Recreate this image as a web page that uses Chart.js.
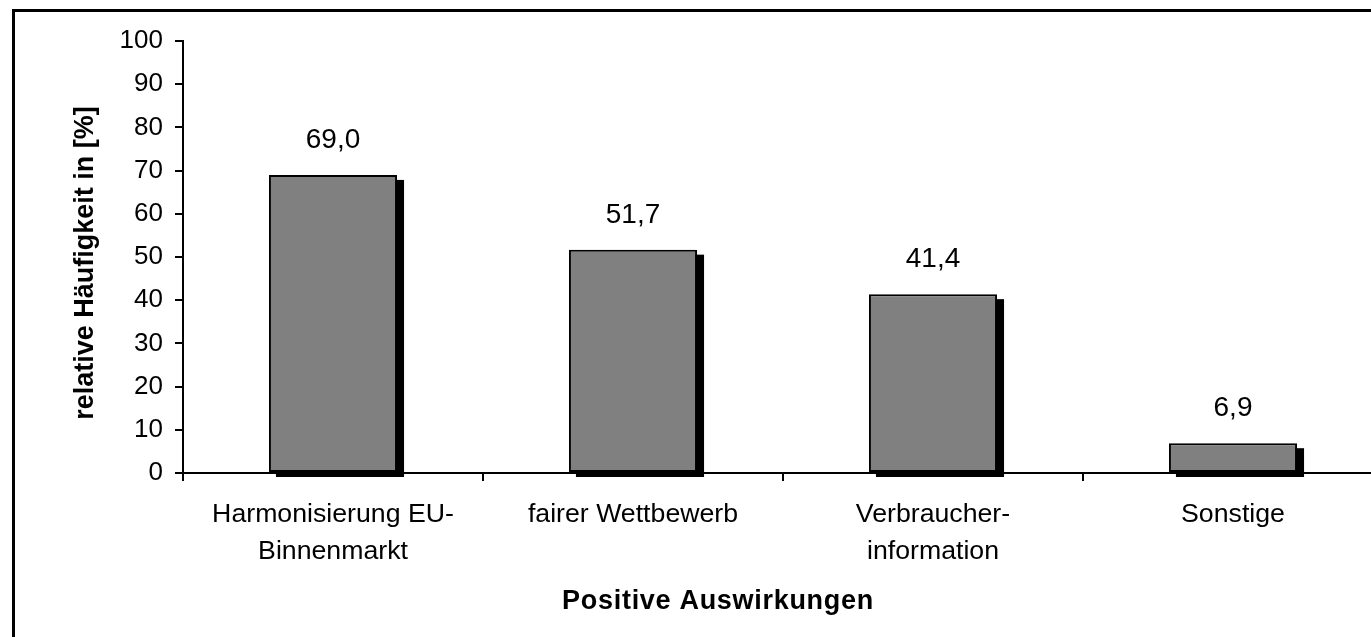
<!DOCTYPE html>
<html>
<head>
<meta charset="utf-8">
<script src="https://cdn.jsdelivr.net/npm/chart.js@4"></script>
<style>
    html, body { margin: 0; padding: 0; background: #fff; overflow: hidden; }
    #frame {
        position: absolute; left: 12px; top: 9px; width: 2000px; height: 2000px;
        border-left: 3px solid #000; border-top: 3px solid #000;
    }
    #wrap { position: absolute; left: 0; top: 0; width: 1400px; height: 637px; }
</style>
</head>
<body>
<div id="frame"></div>
<div id="wrap"><canvas id="chart" width="1400" height="637"></canvas></div>
<script>
const categories = [
    ['Harmonisierung EU-', 'Binnenmarkt'],
    ['fairer Wettbewerb'],
    ['Verbraucher-', 'information'],
    ['Sonstige']
];
const values = [69.0, 51.7, 41.4, 6.9];
const valueLabels = ['69,0', '51,7', '41,4', '6,9'];
const yTitle = 'relative Häufigkeit in [%]';
const xTitle = 'Positive Auswirkungen';

const FONT = '"Liberation Sans", Arial, sans-serif';

// black drop shadow behind each bar (old Excel 3D look)
const shadowPlugin = {
    id: 'barShadow',
    beforeDatasetsDraw(chart) {
        const { ctx } = chart;
        const meta = chart.getDatasetMeta(0);
        ctx.save();
        ctx.fillStyle = '#000';
        meta.data.forEach(bar => {
            const w = bar.width;
            ctx.fillRect(bar.x - w / 2 + 7, bar.y + 5, w, bar.base - bar.y);
        });
        ctx.restore();
    }
};

const labelPlugin = {
    id: 'valueLabels',
    afterDatasetsDraw(chart) {
        const { ctx } = chart;
        const meta = chart.getDatasetMeta(0);
        ctx.save();
        ctx.fillStyle = '#000';
        ctx.font = `28px ${FONT}`;
        ctx.textAlign = 'center';
        ctx.textBaseline = 'alphabetic';
        meta.data.forEach((bar, i) => {
            ctx.fillText(valueLabels[i], bar.x, bar.y - 27);
        });
        ctx.restore();
    }
};

const titlePlugin = {
    id: 'axisTitles',
    afterDraw(chart) {
        const { ctx } = chart;
        ctx.save();
        ctx.fillStyle = '#000';
        ctx.textAlign = 'center';
        ctx.textBaseline = 'alphabetic';
        ctx.font = `bold 27px ${FONT}`;
        ctx.letterSpacing = '0.7px';
        ctx.fillText(xTitle, 718, 609);
        ctx.letterSpacing = '0px';
        ctx.textBaseline = 'middle';
        ctx.translate(86, 263);
        ctx.rotate(-Math.PI / 2);
        ctx.font = `bold 27px ${FONT}`;
        ctx.fillText(yTitle, 0, 0);
        ctx.restore();
    }
};

new Chart(document.getElementById('chart'), {
    type: 'bar',
    data: {
        labels: categories,
        datasets: [{
            data: values,
            backgroundColor: '#808080',
            borderColor: '#000',
            borderWidth: 2,
            borderSkipped: false,
            barPercentage: 0.427,
            categoryPercentage: 1
        }]
    },
    options: {
        responsive: false,
        animation: false,
        devicePixelRatio: 1,
        layout: { padding: { left: 0, top: 41, right: 17, bottom: 0 } },
        plugins: {
            legend: { display: false },
            tooltip: { enabled: false }
        },
        scales: {
            x: {
                afterFit: (scale) => { scale.height = 164; },
                grid: {
                    drawOnChartArea: false,
                    drawTicks: true,
                    tickLength: 8,
                    color: '#000',
                    lineWidth: 2
                },
                border: { color: '#000', width: 2 },
                ticks: {
                    color: '#000',
                    padding: 15,
                    maxRotation: 0,
                    autoSkip: false,
                    font: { family: FONT, size: 26.7, lineHeight: 1.38 }
                }
            },
            y: {
                min: 0,
                max: 100,
                afterFit: (scale) => { scale.width = 183; },
                grid: {
                    drawOnChartArea: false,
                    drawTicks: true,
                    tickLength: 8,
                    color: '#000',
                    lineWidth: 2
                },
                border: { color: '#000', width: 2 },
                ticks: {
                    stepSize: 10,
                    color: '#000',
                    padding: 12,
                    font: { family: FONT, size: 26 }
                }
            }
        }
    },
    plugins: [shadowPlugin, labelPlugin, titlePlugin]
});
</script>
</body>
</html>
